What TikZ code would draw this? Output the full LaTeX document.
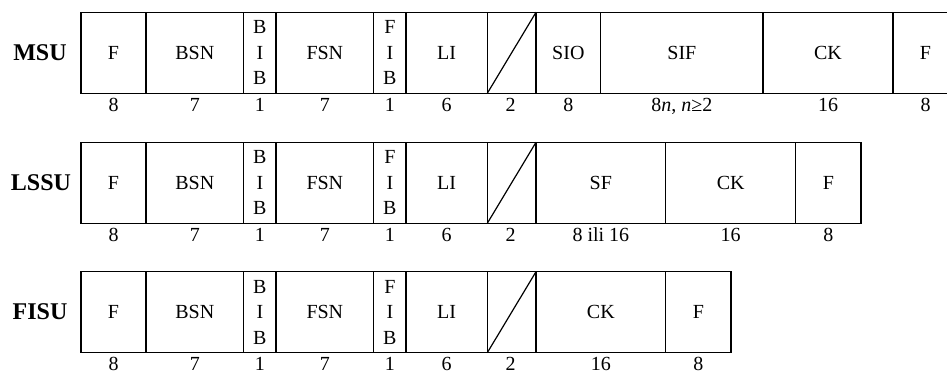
\documentclass[tikz,border=0pt]{standalone}
\usepackage{fontspec}
\setmainfont{Liberation Serif}
\begin{document}
\begin{tikzpicture}[x=1pt,y=-1pt,
  cell/.style={draw,line width=1.2pt,inner sep=0pt,outer sep=0pt,minimum height=81pt,
    anchor=north west,font=\fontsize{20}{25.5}\selectfont,align=center},
  num/.style={anchor=base,inner sep=0pt,font=\fontsize{20}{24}\selectfont},
  lbl/.style={inner sep=0pt,font=\fontsize{24}{28}\selectfont\bfseries},
  slash/.style={line width=1.2pt}]
\useasboundingbox (0,0) rectangle (947,373);
% ---------- MSU ----------
\node[lbl] (lm) at (40,52.8) {MSU};
\node[cell,minimum width=65pt]   (m1) at (81,12.3) {F};
\node[cell,minimum width=97.7pt] (m2) at (146,12.3) {BSN};
\node[cell,minimum width=32.3pt] (m3) at (243.7,12.3) {B\\I\\B};
\node[cell,minimum width=97.7pt] (m4) at (276,12.3) {FSN};
\node[cell,minimum width=32.3pt] (m5) at (373.7,12.3) {F\\I\\B};
\node[cell,minimum width=81.3pt] (m6) at (406,12.3) {LI};
\node[cell,minimum width=48.7pt] (m7) at (487.3,12.3) {};
\node[cell,minimum width=64.7pt] (m8) at (536,12.3) {SIO};
\node[cell,minimum width=162.3pt] (m9) at (600.7,12.3) {SIF};
\node[cell,minimum width=130pt] (m10) at (763,12.3) {CK};
\node[cell,minimum width=65pt] (m11) at (893,12.3) {F};
\draw[slash] (m7.south west) -- (m7.north east);
\path (m1.south) ++(0,18.2) node[num] (mn1) {8};
\path (m2.south) ++(0,18.2) node[num] (mn2) {7};
\path (m3.south) ++(0,18.2) node[num] (mn3) {1};
\path (m4.south) ++(0,18.2) node[num] (mn4) {7};
\path (m5.south) ++(0,18.2) node[num] (mn5) {1};
\path (m6.south) ++(0,18.2) node[num] (mn6) {6};
\path (m7.south) ++(-1,18.2) node[num] (mn7) {2};
\path (m8.south) ++(0,18.2) node[num] (mn8) {8};
\path (m9.south) ++(0,18.2) node[num] (mn9) {8\textit{n}, \textit{n}≥2};
\path (m10.south) ++(0,18.2) node[num] (mn10) {16};
\path (m11.south) ++(0,18.2) node[num] (mn11) {8};
% ---------- LSSU ----------
\node[lbl] (ll) at (41,182.3) {LSSU};
\node[cell,minimum width=65pt]   (l1) at (81,142.3) {F};
\node[cell,minimum width=97.7pt] (l2) at (146,142.3) {BSN};
\node[cell,minimum width=32.3pt] (l3) at (243.7,142.3) {B\\I\\B};
\node[cell,minimum width=97.7pt] (l4) at (276,142.3) {FSN};
\node[cell,minimum width=32.3pt] (l5) at (373.7,142.3) {F\\I\\B};
\node[cell,minimum width=81.3pt] (l6) at (406,142.3) {LI};
\node[cell,minimum width=48.7pt] (l7) at (487.3,142.3) {};
\node[cell,minimum width=129.7pt] (l8) at (536,142.3) {SF};
\node[cell,minimum width=130pt] (l9) at (665.7,142.3) {CK};
\node[cell,minimum width=65.3pt] (l10) at (795.7,142.3) {F};
\draw[slash] (l7.south west) -- (l7.north east);
\path (l1.south) ++(0,18.2) node[num] (ln1) {8};
\path (l2.south) ++(0,18.2) node[num] (ln2) {7};
\path (l3.south) ++(0,18.2) node[num] (ln3) {1};
\path (l4.south) ++(0,18.2) node[num] (ln4) {7};
\path (l5.south) ++(0,18.2) node[num] (ln5) {1};
\path (l6.south) ++(0,18.2) node[num] (ln6) {6};
\path (l7.south) ++(-1,18.2) node[num] (ln7) {2};
\path (l8.south) ++(0,18.2) node[num] (ln8) {8 ili 16};
\path (l9.south) ++(0,18.2) node[num] (ln9) {16};
\path (l10.south) ++(0,18.2) node[num] (ln10) {8};
% ---------- FISU ----------
\node[lbl] (lf) at (40,311.7) {FISU};
\node[cell,minimum width=65pt]   (f1) at (81,271.7) {F};
\node[cell,minimum width=97.7pt] (f2) at (146,271.7) {BSN};
\node[cell,minimum width=32.3pt] (f3) at (243.7,271.7) {B\\I\\B};
\node[cell,minimum width=97.7pt] (f4) at (276,271.7) {FSN};
\node[cell,minimum width=32.3pt] (f5) at (373.7,271.7) {F\\I\\B};
\node[cell,minimum width=81.3pt] (f6) at (406,271.7) {LI};
\node[cell,minimum width=48.7pt] (f7) at (487.3,271.7) {};
\node[cell,minimum width=129.7pt] (f8) at (536,271.7) {CK};
\node[cell,minimum width=65.3pt] (f9) at (665.7,271.7) {F};
\draw[slash] (f7.south west) -- (f7.north east);
\path (f1.south) ++(0,17.6) node[num] (fn1) {8};
\path (f2.south) ++(0,17.6) node[num] (fn2) {7};
\path (f3.south) ++(0,17.6) node[num] (fn3) {1};
\path (f4.south) ++(0,17.6) node[num] (fn4) {7};
\path (f5.south) ++(0,17.6) node[num] (fn5) {1};
\path (f6.south) ++(0,17.6) node[num] (fn6) {6};
\path (f7.south) ++(-1,17.6) node[num] (fn7) {2};
\path (f8.south) ++(0,17.6) node[num] (fn8) {16};
\path (f9.south) ++(0,17.6) node[num] (fn9) {8};
\end{tikzpicture}
\end{document}
